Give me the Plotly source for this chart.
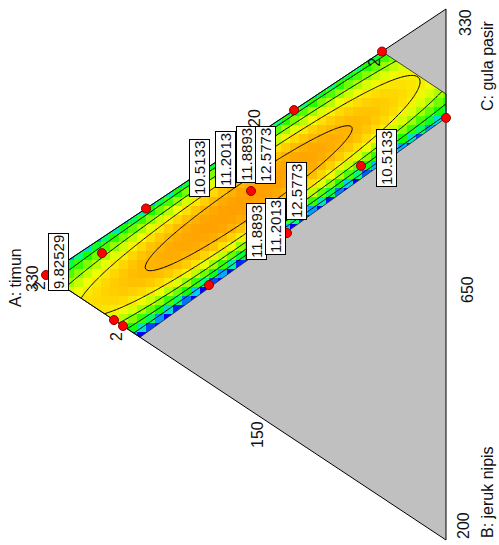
import numpy as np
import plotly.graph_objects as go

# ---------------- data ----------------
COMPONENT_NAMES = ["A: timun", "B: jeruk nipis", "C: gula pasir"]
VERTEX_VALUES = ["330", "200", "330"]
EDGE_VALUES = ["650", "150"]

# fitted response model parameters
# response = T(s) + g(s) * P(B'),  s = C/(A+C),  B' = B scaled to the lower constraint
TOP_EDGE = [9.8, 0.3, 0.6]            # T(s) = t0 + t1*s + t2*s*(1-s)
PROFILE = [48.2, -157.0, -375.7]      # P(B') = p1*B' + p2*B'^2 + p3*B'^3
RIDGE_CENTRE, RIDGE_DROP = 0.40, 1.4  # g(s) = 1 - k*(s - s0)^2
LOWER_LIMIT = [0.235, -0.03]          # B_max(s) = l0 + l1*s
B_REF = 0.22

CONTOUR_LEVELS = [9.82529, 10.5133, 11.2013, 11.8893, 12.5773]

# constrained region vertices (mixture fractions)
REGION_A = [1.00, 0.16, 0.00, 0.00, 0.765]
REGION_B = [0.00, 0.00, 0.16, 0.205, 0.235]
REGION_C = [0.00, 0.84, 0.84, 0.795, 0.000]

# design points (mixture fractions)
PT_A = [1.00, 0.86, 0.75, 0.38, 0.16, 0.00, 0.2125, 0.3975, 0.4875, 0.5925, 0.83, 0.8075]
PT_B = [0.00, 0.029, 0.00, 0.00, 0.00, 0.205, 0.189, 0.2228, 0.0985, 0.223, 0.17, 0.1925]
PT_C = [0.00, 0.111, 0.25, 0.62, 0.84, 0.795, 0.5985, 0.3797, 0.4140, 0.1845, 0.00, 0.0]
PT_REPLICATES = [2, 1, 1, 1, 2, 1, 1, 1, 1, 1, 1, 2]

# contour label values (as printed)
LABEL_TEXT = ["9.82529", "10.5133", "11.2013", "11.8893", "12.5773",
              "11.8893", "11.2013", "12.5773", "10.5133"]

# ---------------- geometry ----------------
VA, VB, VC = (46.0, 275.0), (446.0, 540.0), (446.0, 9.0)
M = np.array([[VA[0], VB[0], VC[0]], [VA[1], VB[1], VC[1]], [1, 1, 1]], float)
Minv = np.linalg.inv(M)


def to_xy(a, b, c):
    a, b, c = (np.asarray(v, float) for v in (a, b, c))
    return a * VA[0] + b * VB[0] + c * VC[0], a * VA[1] + b * VB[1] + c * VC[1]


def to_abc(x, y):
    v = np.stack([x, y, np.ones_like(x)])
    r = np.tensordot(Minv, v, axes=1)
    return r[0], r[1], r[2]


def model(a, b, c):
    s = np.clip(c / np.maximum(a + c, 1e-6), 0, 1)
    top = TOP_EDGE[0] + TOP_EDGE[1] * s + TOP_EDGE[2] * s * (1 - s)
    bmax = LOWER_LIMIT[0] + LOWER_LIMIT[1] * s
    bb = b * B_REF / bmax
    prof = PROFILE[0] * bb + PROFILE[1] * bb ** 2 + PROFILE[2] * bb ** 3
    g = 1 - RIDGE_DROP * (s - RIDGE_CENTRE) ** 2
    return top + g * prof


fig = go.Figure()

# blocky heatmap
cell = 9.0
hx = np.arange(42.5, 452, cell)
hy = np.arange(48.5, 350, cell)
HX, HY = np.meshgrid(hx, hy)
ha, hb, hc = to_abc(HX, HY)
hz = model(ha, hb, hc)

ZMIN, ZMAX = 9.0, 13.2
stops = [(9.0, "#0000FF"), (9.35, "#0064FF"), (9.7, "#00C8FF"), (10.0, "#00FF80"),
         (10.4, "#10FF00"), (11.0, "#80FF00"), (11.7, "#F0FF00"), (12.1, "#FFDC00"),
         (12.5, "#FFBC00"), (12.85, "#FFA400"), (13.2, "#FF9800")]
cscale = [[(v - ZMIN) / (ZMAX - ZMIN), col] for v, col in stops]

fig.add_trace(go.Heatmap(x=hx, y=hy, z=hz, zmin=ZMIN, zmax=ZMAX, colorscale=cscale,
                         showscale=False, zsmooth=False, hoverinfo="skip"))

# contour lines
cx = np.arange(40, 452, 1.5)
cy = np.arange(44, 352, 1.5)
CX, CY = np.meshgrid(cx, cy)
ca, cb, cc = to_abc(CX, CY)
cz = model(ca, cb, cc)
step = (CONTOUR_LEVELS[-1] - CONTOUR_LEVELS[0]) / (len(CONTOUR_LEVELS) - 1)
fig.add_trace(go.Contour(x=cx, y=cy, z=cz, showscale=False, hoverinfo="skip",
                         contours=dict(start=CONTOUR_LEVELS[0], end=CONTOUR_LEVELS[-1],
                                       size=step, coloring="none"),
                         line=dict(color="black", width=1)))

# masks
rx, ry = to_xy(REGION_A, REGION_B, REGION_C)
P = list(zip(rx, ry))  # A, top, cb1, cb2, lower-left


def poly(pts, color):
    xs = [p[0] for p in pts] + [pts[0][0]]
    ys = [p[1] for p in pts] + [pts[0][1]]
    fig.add_trace(go.Scatter(x=xs, y=ys, mode="lines", fill="toself", fillcolor=color,
                             line=dict(width=0, color=color), hoverinfo="skip"))


poly([(0, 0), (VC[0], 0), VC, VA, (0, VA[1])], "white")
poly([(0, VA[1]), VA, VB, (VB[0], 545), (0, 545)], "white")
poly([(VC[0], 0), (499, 0), (499, 545), (VC[0], 545)], "white")
poly([P[1], VC, P[2]], "#C0C0C0")
poly([P[4], P[3], VB], "#C0C0C0")

# region outline
fig.add_trace(go.Scatter(x=list(rx) + [rx[0]], y=list(ry) + [ry[0]], mode="lines",
                         line=dict(color="#202020", width=0.8), hoverinfo="skip"))
# triangle outline
fig.add_trace(go.Scatter(x=[VA[0], VB[0], VC[0], VA[0]], y=[VA[1], VB[1], VC[1], VA[1]],
                         mode="lines", line=dict(color="black", width=1), hoverinfo="skip"))

# design points
px, py = to_xy(PT_A, PT_B, PT_C)
fig.add_trace(go.Scatter(x=px, y=py, mode="markers",
                         marker=dict(size=9, color="#FF0000",
                                     line=dict(color="#900000", width=1)),
                         hoverinfo="skip"))

annotations = []
FONT = "Liberation Sans, Arial, sans-serif"


def txt(s, x, y, size=16, box=False):
    d = dict(text=s, x=x, y=y, xref="x", yref="y", showarrow=False, textangle=-90,
             font=dict(family=FONT, size=size, color="#101010"))
    if box:
        d.update(bgcolor="white", bordercolor="black", borderwidth=1, borderpad=1)
    annotations.append(d)


for xi, yi, r in zip(px, py, PT_REPLICATES):
    if r > 1:
        txt(str(r), xi - 7, yi + 11)

txt("20", 254, 118)

label_pos = [(58, 262), (199, 168), (225, 160), (246, 155), (265, 155),
             (256, 232), (275, 227), (296, 191), (386, 158)]
for s, (lx, ly) in zip(LABEL_TEXT, label_pos):
    txt(s, lx, ly, size=15, box=True)

txt(COMPONENT_NAMES[0], 15, 278)
txt(VERTEX_VALUES[0], 32, 279)
txt(VERTEX_VALUES[2], 465, 23)
txt(COMPONENT_NAMES[2], 487, 66)
txt(VERTEX_VALUES[1], 463, 526)
txt(COMPONENT_NAMES[1], 487, 492)
txt(EDGE_VALUES[0], 467, 290)
txt(EDGE_VALUES[1], 257, 435)

fig.update_layout(width=499, height=545, margin=dict(l=0, r=0, t=0, b=0),
                  paper_bgcolor="white", plot_bgcolor="white", showlegend=False,
                  xaxis=dict(range=[0, 499], visible=False, fixedrange=True),
                  yaxis=dict(range=[545, 0], visible=False, fixedrange=True),
                  annotations=annotations)

fig.write_html("out.html", config={"displayModeBar": False},
               post_script="document.body.style.margin='0';"
                           "document.body.style.overflow='hidden';")
